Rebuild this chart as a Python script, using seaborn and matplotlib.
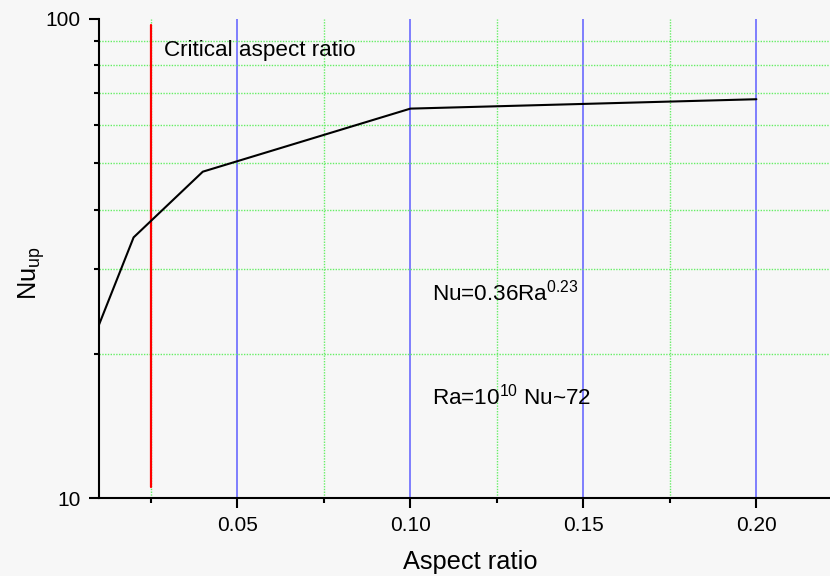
import matplotlib
matplotlib.use("Agg")
import matplotlib.pyplot as plt
from matplotlib.ticker import FixedLocator, NullFormatter, FuncFormatter
import seaborn as sns
import pandas as pd

# Nusselt number against aspect ratio
aspect_ratio = [0.01, 0.02, 0.04, 0.10, 0.20]
nu_up = [23.0, 35.0, 48.0, 65.0, 68.0]

critical_ratio = 0.025
x_major = [0.05, 0.10, 0.15, 0.20]
x_minor = [0.025, 0.075, 0.125, 0.175]
y_major = [10, 100]
y_minor = [20, 30, 40, 50, 60, 70, 80, 90]

sns.set_style("white")
plt.rcParams["font.family"] = ["Liberation Sans", "DejaVu Sans"]
plt.rcParams["mathtext.fontset"] = "custom"
plt.rcParams["mathtext.rm"] = "Liberation Sans"
plt.rcParams["mathtext.default"] = "regular"
for key in ["text.color", "axes.labelcolor", "xtick.color", "ytick.color"]:
    plt.rcParams[key] = "black"

bg = "#f7f7f7"
fig = plt.figure(figsize=(8.3, 5.76), dpi=100, facecolor=bg)
ax = fig.add_axes([99 / 830, 1 - 498 / 576, 1 - 99 / 830, (498 - 19) / 576])
ax.set_facecolor(bg)

ax.set_yscale("log")
ax.set_xlim(0.01, 0.01 + (830 - 99) / 173 * 0.05)
ax.set_ylim(10, 100)

# grid: blue at major x, green dotted at minor x and minor y
for xv in x_major:
    ax.plot([xv, xv], [10, 100], color="#6a6aff", lw=1.2, zorder=1)
for xv in x_minor:
    ax.plot([xv, xv], [10, 100], color="#66ee66", lw=1.0, ls=(0, (1, 1)), zorder=1)
for yv in y_minor:
    ax.axhline(yv, color="#66ee66", lw=1.0, ls=(0, (1, 1)), zorder=1)

# critical aspect ratio marker
ax.plot([critical_ratio, critical_ratio], [97.2, 10.55], color="#ff0000", lw=1.6, zorder=3)

df = pd.DataFrame({"ar": aspect_ratio, "nu": nu_up})
sns.lineplot(data=df, x="ar", y="nu", ax=ax, color="black", lw=1.5, zorder=4)

txt = 16.2
ax.text(0.0288, 86, "Critical aspect ratio", fontsize=txt, va="center", ha="left")
ax.text(0.1062, 26.9, r"Nu=0.36Ra$^{0.23}$", fontsize=txt, va="center", ha="left")
ax.text(0.1062, 16.3, r"Ra=10$^{10}$ Nu~72", fontsize=txt, va="center", ha="left")

ax.xaxis.set_major_locator(FixedLocator(x_major))
ax.xaxis.set_minor_locator(FixedLocator(x_minor))
ax.xaxis.set_major_formatter(FuncFormatter(lambda v, p: f"{v:.2f}"))
ax.xaxis.set_minor_formatter(NullFormatter())
ax.yaxis.set_major_locator(FixedLocator(y_major))
ax.yaxis.set_minor_locator(FixedLocator(y_minor))
ax.yaxis.set_major_formatter(FuncFormatter(lambda v, p: f"{v:g}"))
ax.yaxis.set_minor_formatter(NullFormatter())

ax.tick_params(which="major", direction="out", length=7, width=1.5, labelsize=15, color="black", pad=6)
ax.tick_params(which="minor", direction="out", length=3.5, width=1.5, color="black")
ax.tick_params(axis="x", which="both", bottom=True)
ax.tick_params(axis="y", which="both", left=True)

for side in ["top", "right"]:
    ax.spines[side].set_visible(False)
for side in ["left", "bottom"]:
    ax.spines[side].set_color("black")
    ax.spines[side].set_linewidth(1.5)

ax.set_xlabel("Aspect ratio", fontsize=18.3)
ax.set_ylabel(r"Nu$_{up}$", fontsize=18.3)
ax.xaxis.set_label_coords((470 - 99) / 731, (498 - 550) / 479)
ax.yaxis.set_label_coords((47 - 99) / 731, (498 - 273) / 479)

fig.savefig("out.png", dpi=100, facecolor=bg)
